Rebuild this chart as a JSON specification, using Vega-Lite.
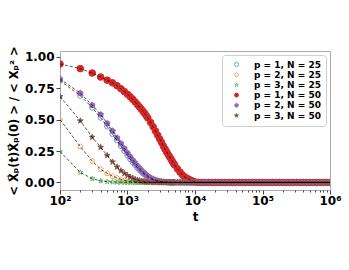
{
  "$schema": "https://vega.github.io/schema/vega-lite/v6.json",
  "width": 270,
  "height": 139,
  "autosize": {"type": "none"},
  "padding": {"left": 60, "top": 51, "right": 19, "bottom": 80},
  "config": {"view": {"stroke": "#aaaaaa", "strokeWidth": 1}, "font": "DejaVu Sans"},
  "data": {"values": [
    {"t":100,"a":0.81,"b":0.5,"c":0.246,"d":0.942,"e":0.823,"f":0.683},
    {"t":200,"a":0.69,"b":0.285,"c":0.08,"d":0.905,"e":0.71,"f":0.49},
    {"t":300,"a":0.595,"b":0.17,"c":0.03,"d":0.87,"e":0.615,"f":0.36},
    {"t":400,"a":0.515,"b":0.105,"c":0.012,"d":0.838,"e":0.54,"f":0.28},
    {"t":500,"a":0.445,"b":0.072,"c":0.006,"d":0.813,"e":0.47,"f":0.215},
    {"t":600,"a":0.385,"b":0.05,"c":0.003,"d":0.792,"e":0.41,"f":0.163},
    {"t":700,"a":0.335,"b":0.035,"c":0.002,"d":0.769,"e":0.355,"f":0.124},
    {"t":800,"a":0.29,"b":0.024,"c":0.001,"d":0.745,"e":0.31,"f":0.094},
    {"t":900,"a":0.25,"b":0.017,"c":0,"d":0.722,"e":0.27,"f":0.072},
    {"t":1000,"a":0.215,"b":0.012,"c":0,"d":0.701,"e":0.235,"f":0.056},
    {"t":1100,"a":0.185,"b":0.008,"c":0,"d":0.681,"e":0.205,"f":0.043},
    {"t":1200,"a":0.16,"b":0.006,"c":0,"d":0.66,"e":0.178,"f":0.033},
    {"t":1300,"a":0.138,"b":0.004,"c":0,"d":0.64,"e":0.155,"f":0.025},
    {"t":1400,"a":0.118,"b":0.003,"c":0,"d":0.62,"e":0.133,"f":0.019},
    {"t":1500,"a":0.1,"b":0.002,"c":0,"d":0.601,"e":0.115,"f":0.015},
    {"t":1600,"a":0.085,"b":0.001,"c":0,"d":0.583,"e":0.098,"f":0.011},
    {"t":1700,"a":0.073,"b":0,"c":0,"d":0.565,"e":0.084,"f":0.009},
    {"t":1800,"a":0.062,"b":0,"c":0,"d":0.548,"e":0.072,"f":0.007},
    {"t":1900,"a":0.052,"b":0,"c":0,"d":0.53,"e":0.061,"f":0.005},
    {"t":2000,"a":0.044,"b":0,"c":0,"d":0.512,"e":0.052,"f":0.004},
    {"t":2200,"a":0.031,"b":0,"c":0,"d":0.477,"e":0.038,"f":0.002},
    {"t":2400,"a":0.022,"b":0,"c":0,"d":0.442,"e":0.027,"f":0.001},
    {"t":2600,"a":0.015,"b":0,"c":0,"d":0.408,"e":0.019,"f":0},
    {"t":2800,"a":0.011,"b":0,"c":0,"d":0.375,"e":0.014,"f":0},
    {"t":3000,"a":0.008,"b":0,"c":0,"d":0.345,"e":0.01,"f":0},
    {"t":3200,"a":0.005,"b":0,"c":0,"d":0.317,"e":0.007,"f":0},
    {"t":3400,"a":0.004,"b":0,"c":0,"d":0.289,"e":0.005,"f":0},
    {"t":3600,"a":0.003,"b":0,"c":0,"d":0.266,"e":0.004,"f":0},
    {"t":3800,"a":0.002,"b":0,"c":0,"d":0.243,"e":0.003,"f":0},
    {"t":4000,"a":0.001,"b":0,"c":0,"d":0.222,"e":0.002,"f":0},
    {"t":4200,"a":0,"b":0,"c":0,"d":0.204,"e":0.001,"f":0},
    {"t":4400,"a":0,"b":0,"c":0,"d":0.186,"e":0,"f":0},
    {"t":4600,"a":0,"b":0,"c":0,"d":0.169,"e":0,"f":0},
    {"t":4800,"a":0,"b":0,"c":0,"d":0.152,"e":0,"f":0},
    {"t":5000,"a":0,"b":0,"c":0,"d":0.139,"e":0,"f":0},
    {"t":5500,"a":0,"b":0,"c":0,"d":0.108,"e":0,"f":0},
    {"t":6000,"a":0,"b":0,"c":0,"d":0.082,"e":0,"f":0},
    {"t":6500,"a":0,"b":0,"c":0,"d":0.061,"e":0,"f":0},
    {"t":7000,"a":0,"b":0,"c":0,"d":0.045,"e":0,"f":0},
    {"t":7500,"a":0,"b":0,"c":0,"d":0.034,"e":0,"f":0},
    {"t":8000,"a":0,"b":0,"c":0,"d":0.026,"e":0,"f":0},
    {"t":8500,"a":0,"b":0,"c":0,"d":0.019,"e":0,"f":0},
    {"t":9000,"a":0,"b":0,"c":0,"d":0.013,"e":0,"f":0},
    {"t":9500,"a":0,"b":0,"c":0,"d":0.008,"e":0,"f":0},
    {"t":10000,"a":0,"b":0,"c":0,"d":0.004,"e":0,"f":0},
    {"t":11200,"a":0,"b":0,"c":0,"d":0.001,"e":0,"f":0},
    {"t":12500,"a":0,"b":0,"c":0,"d":0,"e":0,"f":0},
    {"t":14000,"a":0,"b":0,"c":0,"d":0,"e":0,"f":0},
    {"t":16000,"a":0,"b":0,"c":0,"d":0,"e":0,"f":0},
    {"t":18000,"a":0,"b":0,"c":0,"d":0,"e":0,"f":0},
    {"t":20000,"a":0,"b":0,"c":0,"d":0,"e":0,"f":0},
    {"t":22500,"a":0,"b":0,"c":0,"d":0,"e":0,"f":0},
    {"t":25000,"a":0,"b":0,"c":0,"d":0,"e":0,"f":0},
    {"t":28000,"a":0,"b":0,"c":0,"d":0,"e":0,"f":0},
    {"t":32000,"a":0,"b":0,"c":0,"d":0,"e":0,"f":0},
    {"t":36000,"a":0,"b":0,"c":0,"d":0,"e":0,"f":0},
    {"t":40000,"a":0,"b":0,"c":0,"d":0,"e":0,"f":0},
    {"t":45000,"a":0,"b":0,"c":0,"d":0,"e":0,"f":0},
    {"t":50000,"a":0,"b":0,"c":0,"d":0,"e":0,"f":0},
    {"t":56000,"a":0,"b":0,"c":0,"d":0,"e":0,"f":0},
    {"t":63000,"a":0,"b":0,"c":0,"d":0,"e":0,"f":0},
    {"t":71000,"a":0,"b":0,"c":0,"d":0,"e":0,"f":0},
    {"t":80000,"a":0,"b":0,"c":0,"d":0,"e":0,"f":0},
    {"t":90000,"a":0,"b":0,"c":0,"d":0,"e":0,"f":0},
    {"t":100000,"a":0,"b":0,"c":0,"d":0,"e":0,"f":0},
    {"t":112000,"a":0,"b":0,"c":0,"d":0,"e":0,"f":0},
    {"t":125000,"a":0,"b":0,"c":0,"d":0,"e":0,"f":0},
    {"t":140000,"a":0,"b":0,"c":0,"d":0,"e":0,"f":0},
    {"t":160000,"a":0,"b":0,"c":0,"d":0,"e":0,"f":0},
    {"t":180000,"a":0,"b":0,"c":0,"d":0,"e":0,"f":0},
    {"t":200000,"a":0,"b":0,"c":0,"d":0,"e":0,"f":0},
    {"t":225000,"a":0,"b":0,"c":0,"d":0,"e":0,"f":0},
    {"t":250000,"a":0,"b":0,"c":0,"d":0,"e":0,"f":0},
    {"t":280000,"a":0,"b":0,"c":0,"d":0,"e":0,"f":0},
    {"t":320000,"a":0,"b":0,"c":0,"d":0,"e":0,"f":0},
    {"t":360000,"a":0,"b":0,"c":0,"d":0,"e":0,"f":0},
    {"t":400000,"a":0,"b":0,"c":0,"d":0,"e":0,"f":0},
    {"t":450000,"a":0,"b":0,"c":0,"d":0,"e":0,"f":0},
    {"t":500000,"a":0,"b":0,"c":0,"d":0,"e":0,"f":0},
    {"t":560000,"a":0,"b":0,"c":0,"d":0,"e":0,"f":0},
    {"t":630000,"a":0,"b":0,"c":0,"d":0,"e":0,"f":0},
    {"t":710000,"a":0,"b":0,"c":0,"d":0,"e":0,"f":0},
    {"t":800000,"a":0,"b":0,"c":0,"d":0,"e":0,"f":0},
    {"t":900000,"a":0,"b":0,"c":0,"d":0,"e":0,"f":0},
    {"t":1000000,"a":0,"b":0,"c":0,"d":0,"e":0,"f":0}
  ]},
  "transform": [{"fold": ["a","b","c","d","e","f"], "as": ["s","v"]}],
  "encoding": {
    "x": {"field": "t", "type": "quantitative",
      "scale": {"type": "log", "domain": [100, 1000000]},
      "axis": {"title": "t", "titleFontSize": 12, "titleFontWeight": "bold", "titleColor": "black", "titlePadding": 5,
        "values": [100,200,300,400,500,600,700,800,900,1000,2000,3000,4000,5000,6000,7000,8000,9000,10000,20000,30000,40000,50000,60000,70000,80000,90000,100000,200000,300000,400000,500000,600000,700000,800000,900000,1000000],
        "labelExpr": "datum.value==100?'10²':datum.value==1000?'10³':datum.value==10000?'10⁴':datum.value==100000?'10⁵':datum.value==1000000?'10⁶':''",
        "labelFontSize": 12, "labelFontWeight": "bold", "labelColor": "black", "labelOverlap": false, "labelFlush": false, "labelPadding": 1,
        "tickSize": {"condition": {"test": "indexof([100,1000,10000,100000,1000000], datum.value) >= 0", "value": 4}, "value": 2},
        "tickColor": "#444", "domain": false, "grid": false}},
    "y": {"field": "v", "type": "quantitative",
      "scale": {"domain": [-0.06, 1.045], "nice": false, "zero": false},
      "axis": {"title": "< X⃗ₚ(t)X⃗ₚ(0) > / < Xₚ² >", "titleFontSize": 11.5, "titleFontWeight": "bold", "titleColor": "black", "titlePadding": 5,
        "values": [0, 0.25, 0.5, 0.75, 1], "format": ".2f",
        "labelFontSize": 12, "labelFontWeight": "bold", "labelColor": "black", "labelPadding": 2,
        "tickSize": 4, "tickColor": "#444", "domain": false, "grid": false}}
  },
  "layer": [
    {"mark": {"type": "point", "clip": true, "strokeWidth": 1, "opacity": 1},
     "encoding": {
       "shape": {"field": "s", "type": "nominal", "title": null,
         "scale": {"domain": ["a","b","c","d","e","f"],
           "range": ["circle", "M0,-1L0.951,-0.309L0.588,0.809L-0.588,0.809L-0.951,-0.309Z", "M0,-1L0.223,-0.307L0.951,-0.309L0.361,0.117L0.588,0.809L0,0.38L-0.588,0.809L-0.361,0.117L-0.951,-0.309L-0.223,-0.307Z", "circle", "M0,-1L0.951,-0.309L0.588,0.809L-0.588,0.809L-0.951,-0.309Z", "M0,-1L0.223,-0.307L0.951,-0.309L0.361,0.117L0.588,0.809L0,0.38L-0.588,0.809L-0.361,0.117L-0.951,-0.309L-0.223,-0.307Z"]},
         "legend": {"orient": "top-right", "offset": 4, "padding": 5,
           "fillColor": "rgba(255,255,255,0.85)", "strokeColor": "#d0d0d0", "cornerRadius": 3,
           "labelFontSize": 9, "labelFontWeight": "bold", "labelColor": "black", "symbolSize": 16, "rowPadding": 0.2,
           "symbolOffset": 5, "labelOffset": 13, "symbolStrokeWidth": 1,
           "labelExpr": "datum.label=='a'?'p = 1, N = 25':datum.label=='b'?'p = 2, N = 25':datum.label=='c'?'p = 3, N = 25':datum.label=='d'?'p = 1, N = 50':datum.label=='e'?'p = 2, N = 50':'p = 3, N = 50'"}},
       "stroke": {"field": "s", "type": "nominal", "title": null,
         "scale": {"domain": ["a","b","c","d","e","f"], "range": ["#5fa0d2","#f7a85e","#68be68","#d62728","#9467bd","#8c564b"]}},
       "fill": {"field": "s", "type": "nominal", "title": null,
         "scale": {"domain": ["a","b","c","d","e","f"], "range": ["transparent","transparent","transparent","#d62728","#9467bd","#8c564b"]}},
       "size": {"condition": [{"test": "datum.s=='d'", "value": 44}, {"test": "datum.s=='f'", "value": 36}, {"test": "datum.s=='e'", "value": 34}], "value": 28},
       "order": {"field": "s"}
     }},
    {"mark": {"type": "line", "clip": true, "stroke": "black", "strokeDash": [3, 2], "strokeWidth": 0.8, "opacity": 0.85},
     "encoding": {"detail": {"field": "s", "type": "nominal"}}}
  ]
}
